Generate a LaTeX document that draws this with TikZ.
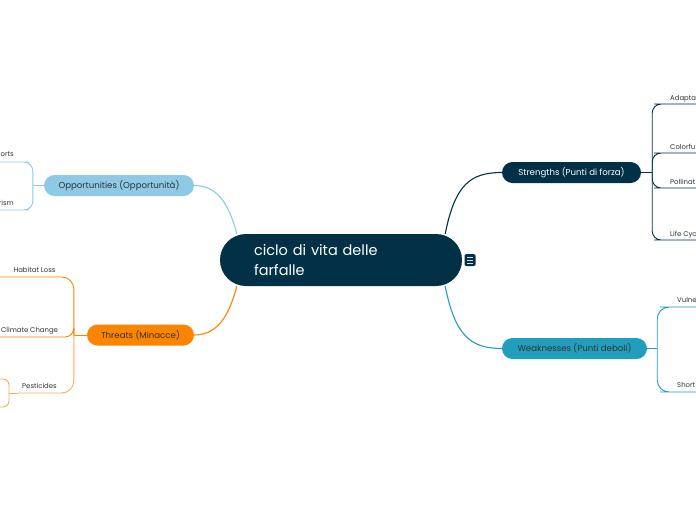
\documentclass[tikz,border=0pt]{standalone}
\usepackage{fontspec}
\setmainfont{Poppins}
\usetikzlibrary{calc}
\definecolor{cNavy}{HTML}{023047}
\definecolor{cTeal}{HTML}{219EBC}
\definecolor{cSky}{HTML}{8ECAE6}
\definecolor{cOrange}{HTML}{FB8500}
\definecolor{cOrangeL}{HTML}{FDAA55}
\definecolor{cText}{HTML}{333333}
\begin{document}
\begin{tikzpicture}[x=1pt,y=-1pt,
  mainnode/.style={fill=cNavy, rounded corners=26pt, minimum width=242pt, minimum height=52pt,
    text=white, font=\fontsize{14.5}{20}\selectfont, inner sep=0pt, text width=174pt, align=left},
  topic/.style={rounded corners=10.5pt, minimum height=21pt, inner sep=0pt, font=\fontsize{8.6}{10}\selectfont},
  sub/.style={font=\fontsize{6.9}{8}\selectfont, text=cText, inner sep=0pt},
  link/.style={line width=1.1pt},
  sublink/.style={line width=0.9pt, rounded corners=9pt}]
\useasboundingbox (0,0) rectangle (696,520);
\fill[white] (0,0) rectangle (696,520);
\clip (0,0) rectangle (696,520);

% central
\node[mainnode] (c) at (341,260) {ciclo di vita delle\\farfalle};
\node[fill=cNavy, rounded corners=1.5pt, minimum width=11pt, minimum height=12pt, inner sep=0pt] (ic) at (470,260) {};
\foreach \yy in {-3,0,3} \draw[white!85!cNavy, line width=0.8pt] ($(ic.center)+(-3,\yy)$) -- ++(6,0);

% topics
\node[topic, fill=cNavy, text=white, minimum width=139pt] (str) at (571.5,172.5) {Strengths (Punti di forza)};
\node[topic, fill=cTeal, text=cText, minimum width=145pt] (wk) at (574.5,348.5) {Weaknesses (Punti deboli)};
\node[topic, fill=cSky, text=cText, minimum width=150pt] (op) at (119,185.5) {Opportunities (Opportunità)};
\node[topic, fill=cOrange, text=cText, minimum width=107pt] (th) at (140.5,335) {Threats (Minacce)};

% main connectors
\draw[link, cNavy] ($(c.north east)+(-17,0)$) .. controls (455,185) and (470,172.5) .. (str.west);
\draw[link, cTeal] ($(c.south east)+(-17,0)$) .. controls (455,335) and (470,348.5) .. (wk.west);
\draw[link, cSky] ($(c.north west)+(17,0)$) .. controls (228,200) and (215,185.5) .. (op.east);
\draw[link, cOrange] ($(c.south west)+(17,0)$) .. controls (228,320) and (215,335) .. (th.east);

% strengths children
\node[sub, anchor=base west] (s1) at (670,100) {Adapta};
\node[sub, anchor=base west] (s2) at (670,149) {Colorfu};
\node[sub, anchor=base west] (s3) at (670,184) {Pollinat};
\node[sub, anchor=base west] (s4) at (670,236) {Life Cyc};
\draw[sublink, cNavy] (str.east) -- ++(11,0) coordinate (sj);
\foreach \n in {s1,s2,s3,s4}
  \draw[sublink, cNavy] (sj) |- ($(\n.base west)+(-7,4)$) -- ++(40,0);

% weaknesses children
\node[sub, anchor=base west] (w1) at (677,302) {Vulner};
\node[sub, anchor=base west] (w2) at (677,387) {Short};
\draw[sublink, cTeal] (wk.east) -- ++(10,0) coordinate (wj);
\foreach \n in {w1,w2}
  \draw[sublink, cTeal, rounded corners=12pt] (wj) |- ($(\n.base west)+(-5,5)$) -- ++(40,0);

% opportunities children
\node[sub, anchor=base east] (o1) at (14,156) {orts};
\node[sub, anchor=base east] (o2) at (14,205) {rism};
\draw[sublink, cSky] (op.west) -- ++(-11,0) coordinate (oj);
\draw[sublink, cSky] (oj) |- ($(o1.base east)+(6,6)$) -- ++(-40,0);
\draw[sublink, cSky] (oj) |- ($(o2.base east)+(6,5)$) -- ++(-40,0);

% threats children
\node[sub, anchor=base] (t1) at (34.5,272) {Habitat Loss};
\node[sub, anchor=base] (t2) at (29.5,332) {Climate Change};
\node[sub, anchor=base] (t3) at (39.5,388) {Pesticides};
\draw[sublink, cOrange] (th.west) -- ++(-13,0) coordinate (tj);
\draw[sublink, cOrange, rounded corners=12pt] (tj) |- (-5,277);
\draw[sublink, cOrange] (tj) -- ++(0,2) -- (-5,337);
\draw[sublink, cOrangeL, rounded corners=12pt] (tj) |- (18,393) coordinate (pj);
\draw[sublink, cOrangeL] (pj) -- (9,393) coordinate (pk);
\draw[sublink, cOrangeL, rounded corners=6pt] (pk) |- (-5,379);
\draw[sublink, cOrangeL, rounded corners=6pt] (pk) |- (-5,407);
\end{tikzpicture}
\end{document}
